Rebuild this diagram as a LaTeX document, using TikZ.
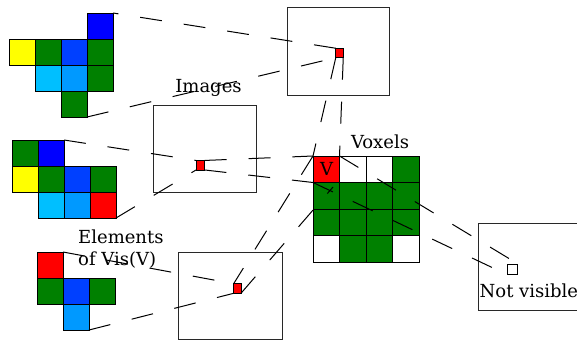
\documentclass[tikz,border=0pt]{standalone}
\usepackage{fontspec}
\setmainfont{DejaVu Serif}
\definecolor{cgreen}{RGB}{0,128,0}
\definecolor{cblue}{RGB}{0,0,255}
\definecolor{cbluetwo}{RGB}{0,64,255}
\definecolor{ccyan}{RGB}{0,191,255}
\definecolor{clblue}{RGB}{0,153,255}
\definecolor{cyell}{RGB}{255,255,0}
\definecolor{cred}{RGB}{255,0,0}
\definecolor{boxgray}{RGB}{40,40,40}
\newcommand\pcell[3]{\draw[cellstyle,fill=#3] (#1,#2) rectangle ++(26,26);}
\newcommand\vcell[3]{\draw[cellstyle,fill=#3] (313+26.5*#1,156+26.5*#2) rectangle ++(26.5,26.5);}
\begin{document}
\begin{tikzpicture}[x=1pt,y=-1pt,
  cellstyle/.style={draw=black,line width=0.9pt},
  imgbox/.style={draw=boxgray,line width=1pt},
  ray/.style={draw=black,line width=1pt,dash pattern=on 22pt off 22pt},
  redsq/.style={draw=black,fill=cred,line width=0.8pt,inner sep=0pt,outer sep=0pt},
  label/.style={font=\fontsize{18}{22}\selectfont,inner sep=0pt}]
\useasboundingbox (0,0) rectangle (577,340);
\clip (0,0) rectangle (577,340);
% patch 1
\pcell{87}{13}{cblue}
\pcell{9}{39}{cyell}\pcell{35}{39}{cgreen}\pcell{61}{39}{cbluetwo}\pcell{87}{39}{cgreen}
\pcell{35}{65}{ccyan}\pcell{61}{65}{clblue}\pcell{87}{65}{cgreen}
\pcell{61}{91}{cgreen}
% patch 2
\pcell{12}{140}{cgreen}\pcell{38}{140}{cblue}
\pcell{12}{166}{cyell}\pcell{38}{166}{cgreen}\pcell{64}{166}{cbluetwo}\pcell{90}{166}{cgreen}
\pcell{38}{192}{ccyan}\pcell{64}{192}{clblue}\pcell{90}{192}{cred}
% patch 3
\pcell{37}{252}{cred}
\pcell{37}{278}{cgreen}\pcell{63}{278}{cbluetwo}\pcell{89}{278}{cgreen}
\pcell{63}{304}{clblue}
\coordinate (p1tr) at (113,13);
\coordinate (p1b) at (87,117);
\coordinate (p2tr) at (64,140);
\coordinate (p2br) at (116,218);
\coordinate (p3tr) at (63,252);
\coordinate (p3br) at (89,330);
% voxel grid
\vcell{0}{0}{cred}\vcell{1}{0}{white}\vcell{2}{0}{white}\vcell{3}{0}{cgreen}
\vcell{0}{1}{cgreen}\vcell{1}{1}{cgreen}\vcell{2}{1}{cgreen}\vcell{3}{1}{cgreen}
\vcell{0}{2}{cgreen}\vcell{1}{2}{cgreen}\vcell{2}{2}{cgreen}\vcell{3}{2}{cgreen}
\vcell{0}{3}{white}\vcell{1}{3}{cgreen}\vcell{2}{3}{cgreen}\vcell{3}{3}{white}
\coordinate (vtl) at (313,156);
\coordinate (vtr) at (339.5,156);
\coordinate (vbl) at (313,182.5);
\coordinate (cend) at (333,187);
\node[label,anchor=base] (vlab) at (326.5,175) {V};
% image boxes
\draw[imgbox] (287,7) rectangle (389,95);
\draw[imgbox] (153,105) rectangle (256,192);
\draw[imgbox] (178,252) rectangle (282,339);
\draw[imgbox] (478,223) rectangle (590,310);
% red squares
\node[redsq,minimum width=7.5pt,minimum height=9.5pt] (r1) at (339.5,53) {};
\node[redsq,minimum width=8.5pt,minimum height=9.5pt] (r2) at (200.3,165.2) {};
\node[redsq,minimum width=7.3pt,minimum height=9.6pt] (r3) at (237.3,288.5) {};
\node[draw=black,fill=white,line width=0.8pt,inner sep=0pt,minimum size=10pt] (sq) at (512,269) {};
% rays
\draw[ray] (r1.north west) -- (p1tr);
\draw[ray] (p1b) -- (r1.south west);
\draw[ray] (r1.south west) -- (vtl);
\draw[ray] (r1.south east) -- (vtr);
\draw[ray] (p2tr) -- (r2.north west);
\draw[ray] (p2br) -- (r2.south west);
\draw[ray] (r2.north east) -- (vtl);
\draw[ray] (r2.south east) -- (vbl);
\draw[ray] (p3tr) -- (r3.north west);
\draw[ray] (p3br) -- (r3.south west);
\draw[ray] (vtl) -- (r3.north west);
\draw[ray] (r3.south east) -- (cend);
\draw[ray] (vtr) -- (sq.north east);
\draw[ray] (vbl) -- (sq.south west);
% labels
\node[label,anchor=base] (images) at (208.5,92) {Images};
\node[label,anchor=base] (voxels) at (380,148) {Voxels};
\node[label,anchor=base west] (elem) at (78,243) {Elements};
\node[label,anchor=base west] (elemb) at (78,265) {of Vis(V)};
\node[label,anchor=base west] (notvis) at (479.5,297) {Not visible};
\end{tikzpicture}
\end{document}
